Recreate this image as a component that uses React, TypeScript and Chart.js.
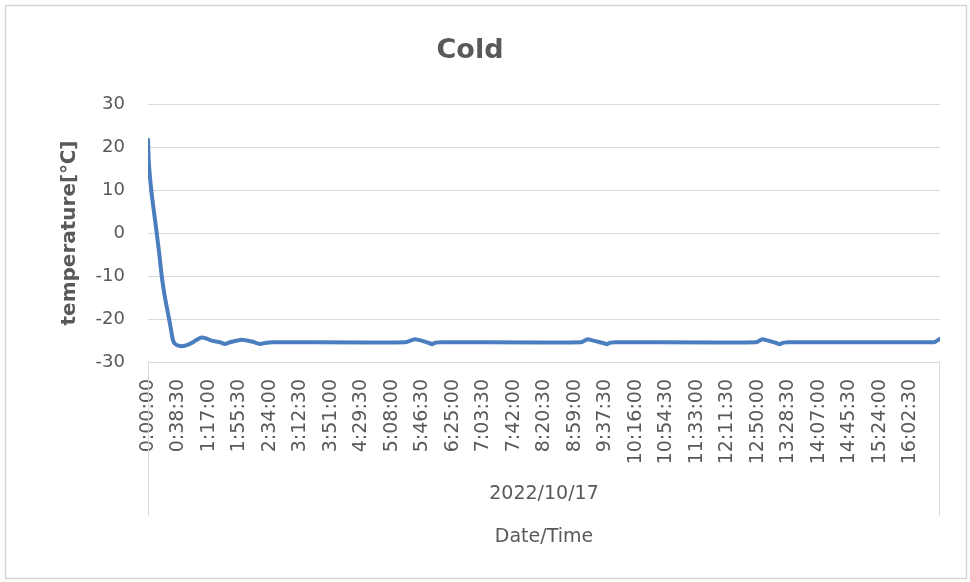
import { useEffect, useRef } from "react";
import { Chart, registerables } from "chart.js";

Chart.register(...registerables);

const chartTitle = "Cold";
const yAxisTitle = "temperature[℃]";
const xAxisTitle = "Date/Time";
const dateLabel = "2022/10/17";

const tickLabels = [
  "0:00:00", "0:38:30", "1:17:00", "1:55:30", "2:34:00", "3:12:30", "3:51:00",
  "4:29:30", "5:08:00", "5:46:30", "6:25:00", "7:03:30", "7:42:00", "8:20:30",
  "8:59:00", "9:37:30", "10:16:00", "10:54:30", "11:33:00", "12:11:30", "12:50:00",
  "13:28:30", "14:07:00", "14:45:30", "15:24:00", "16:02:30",
];

const sampleTimes = [
  "0:00:00", "0:01:00", "0:03:00", "0:05:00", "0:07:30", "0:11:00",
  "0:14:00", "0:17:20", "0:20:30", "0:23:40", "0:27:40", "0:30:00", "0:31:40",
  "0:34:10", "0:38:20", "0:44:10", "0:50:00", "0:55:00", "1:01:40", "1:07:30",
  "1:13:20", "1:18:20", "1:25:00", "1:30:50", "1:37:10", "1:43:20", "1:50:00",
  "1:58:20", "2:05:00", "2:12:30", "2:21:20", "2:29:50", "2:36:40", "5:25:00",
  "5:36:50", "5:40:10", "5:48:20", "5:56:40", "5:58:20", "6:03:20", "6:10:00",
  "9:07:00", "9:15:00", "9:20:00", "9:28:20", "9:36:40", "9:39:00", "9:44:00",
  "9:50:00", "12:48:00", "12:55:40", "13:00:40", "13:08:20", "13:15:00",
  "13:17:20", "13:22:20", "13:28:20", "16:30:00", "16:34:00", "16:37:30",
  "16:40:00",
];

const temperatures = [
  21.7, 16.5, 12.0, 8.5, 5.0, 0.0,
  -4.5, -10.0, -14.0, -17.2, -21.0, -23.5, -25.0,
  -25.8, -26.2, -26.3, -26.0, -25.6, -24.8, -24.3,
  -24.5, -24.9, -25.2, -25.4, -25.8, -25.4, -25.1,
  -24.8, -25.0, -25.3, -25.8, -25.5, -25.4, -25.4,
  -24.7, -24.8, -25.2, -25.7, -25.85, -25.5, -25.4,
  -25.4, -24.7, -24.9, -25.3, -25.7, -25.85, -25.5,
  -25.4, -25.4, -24.7, -24.9, -25.3, -25.7,
  -25.85, -25.5, -25.4, -25.4, -25.3, -24.9,
  -24.6,
];

const toSeconds = (s: string) => {
  const [h, m, sec] = s.split(":").map(Number);
  return h * 3600 + m * 60 + sec;
};

const TEXT = "#595959";
const GRID = "#D9D9D9";
const FONT = "'DejaVu Sans', sans-serif";

const decorPlugin = {
  id: "decor",
  afterDraw(chart: any) {
    const { ctx, chartArea } = chart;
    ctx.save();
    ctx.strokeStyle = "#D6D6D6";
    ctx.lineWidth = 1.5;
    ctx.strokeRect(5.5, 5.5, 961, 573);
    ctx.strokeStyle = GRID;
    ctx.lineWidth = 1;
    const l = Math.round(chartArea.left) + 0.5;
    const r = Math.round(chartArea.right) - 0.5;
    const b = Math.round(chartArea.bottom);
    ctx.beginPath();
    ctx.moveTo(l, b);
    ctx.lineTo(l, 516);
    ctx.moveTo(r, b);
    ctx.lineTo(r, 516);
    ctx.stroke();
    ctx.fillStyle = TEXT;
    ctx.font = `19px ${FONT}`;
    ctx.textAlign = "center";
    ctx.textBaseline = "middle";
    ctx.fillText(dateLabel, (chartArea.left + chartArea.right) / 2, 494);
    ctx.restore();
  },
};

export default function App() {
  const ref = useRef<HTMLCanvasElement | null>(null);

  useEffect(() => {
    if (!ref.current) return;
    const points = sampleTimes.map((t, i) => ({ x: toSeconds(t), y: temperatures[i] }));
    const chart = new Chart(ref.current, {
      type: "line",
      data: {
        datasets: [
          {
            data: points,
            borderColor: "#4A7EBF",
            borderWidth: 4,
            pointRadius: 0,
            tension: 0.2,
            borderJoinStyle: "round",
            borderCapStyle: "round",
            fill: false,
          },
        ],
      },
      options: {
        animation: false,
        responsive: false,
        devicePixelRatio: 1,
        layout: { padding: { left: 0, right: 30, top: 0, bottom: 0 } },
        plugins: {
          legend: { display: false },
          tooltip: { enabled: false },
          title: {
            display: true,
            text: chartTitle,
            color: TEXT,
            font: { family: FONT, size: 27, weight: "bold", lineHeight: 1.2 },
            padding: { top: 35, bottom: 36.6 },
          },
        },
        scales: {
          x: {
            type: "linear",
            min: 0,
            max: 60000,
            grid: { display: false, drawTicks: false },
            border: { display: false },
            afterBuildTicks: (scale: any) => {
              scale.ticks = tickLabels.map((t) => ({ value: toSeconds(t) }));
            },
            ticks: {
              autoSkip: false,
              minRotation: 90,
              maxRotation: 90,
              padding: 17,
              color: TEXT,
              font: { family: FONT, size: 19 },
              callback: (_v: any, i: number) => tickLabels[i],
            },
            title: {
              display: true,
              text: xAxisTitle,
              color: TEXT,
              font: { family: FONT, size: 19, lineHeight: 1.2 },
              padding: { top: 0, bottom: 34 },
            },
            afterFit: (scale: any) => {
              scale.height = 220;
            },
          },
          y: {
            min: -30,
            max: 30,
            grid: { color: GRID, drawTicks: false, lineWidth: 1 },
            border: { display: false },
            ticks: {
              stepSize: 10,
              padding: 23,
              color: TEXT,
              font: { family: FONT, size: 18 },
            },
            title: {
              display: true,
              text: yAxisTitle,
              color: TEXT,
              font: { family: FONT, size: 20, weight: "bold", lineHeight: 1.2 },
              padding: { top: 58, bottom: 0 },
            },
            afterFit: (scale: any) => {
              scale.width = 148;
            },
          },
        },
      },
      plugins: [decorPlugin],
    } as any);
    return () => chart.destroy();
  }, []);

  return (
    <div style={{ position: "absolute", left: 0, top: 0, width: 970, height: 582, background: "#fff" }}>
      <canvas ref={ref} width={970} height={582} style={{ display: "block", width: 970, height: 582 }} />
    </div>
  );
}
